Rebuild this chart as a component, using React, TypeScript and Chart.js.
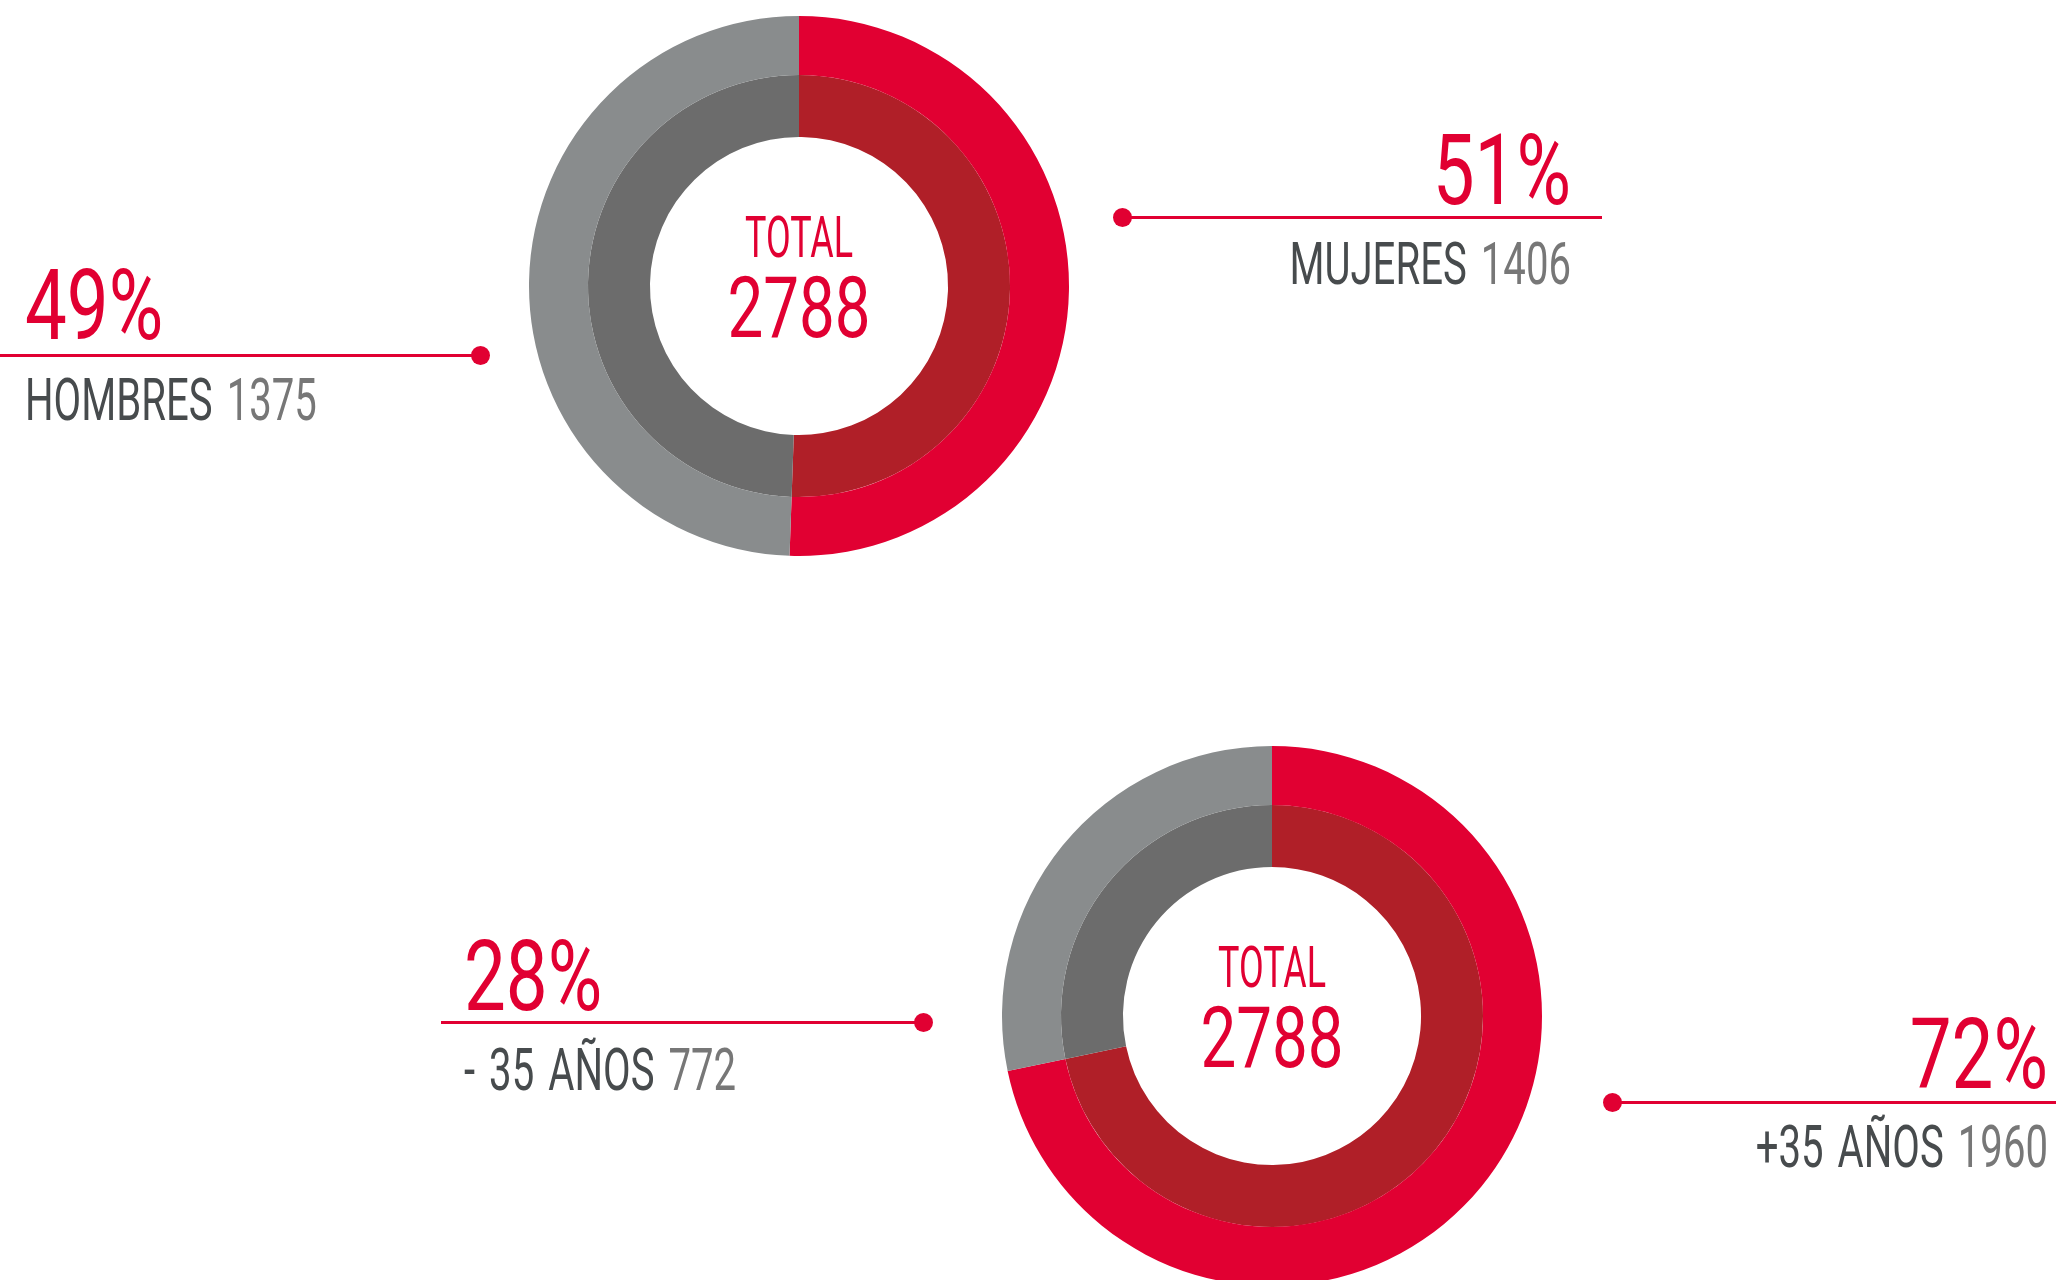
import React, { useEffect, useRef } from "react";
import { Chart, registerables } from "chart.js";

Chart.register(...registerables);

// ---- data ----
const genderLabels = ["MUJERES", "HOMBRES"];
const genderValues = [1406, 1375];
const genderPercents = [51, 49];

const ageLabels = ["+35 AÑOS", "- 35 AÑOS"];
const ageValues = [1960, 772];
const agePercents = [72, 28];

const totalLabel = "TOTAL";
const totalValue = 2788;

// ---- style ----
const RED = "#E10032";
const DARK_RED = "#B01F28";
const GRAY = "#898C8D";
const DARK_GRAY = "#6C6C6C";
const TEXT_DARK = "#474B4D";
const TEXT_LIGHT = "#777777";
const W = 2056;
const H = 1280;
const FONT = "Roboto, 'Noto Sans', sans-serif";
const BASE = 0.842; // baseline offset (em) for line-height 1
const SIZE = 540;

function Donut(props: { labels: string[]; values: number[]; cx: number; cy: number }) {
  const ref = useRef<HTMLCanvasElement>(null);
  useEffect(() => {
    const chart = new Chart(ref.current as HTMLCanvasElement, {
      type: "doughnut",
      data: {
        labels: props.labels,
        datasets: [
          { data: props.values, backgroundColor: [RED, GRAY], borderWidth: 0, weight: 59 } as any,
          { data: props.values, backgroundColor: [DARK_RED, DARK_GRAY], borderWidth: 0, weight: 62 } as any,
        ],
      },
      options: {
        responsive: false,
        animation: false,
        cutout: "55.2%",
        events: [],
        layout: { padding: 0 },
        plugins: { legend: { display: false }, tooltip: { enabled: false } },
      },
    });
    return () => chart.destroy();
  }, []);
  return (
    <canvas
      ref={ref}
      width={SIZE}
      height={SIZE}
      style={{ position: "absolute", left: props.cx - SIZE / 2, top: props.cy - SIZE / 2, width: SIZE, height: SIZE }}
    />
  );
}

function Text(props: {
  x: number;
  baseline: number;
  size: number;
  align: "left" | "right" | "center";
  k: number;
  children: React.ReactNode;
  color?: string;
  weight?: number;
  wordSpacing?: number;
}) {
  const { x, baseline, size, align, k } = props;
  const top = baseline - BASE * size;
  const style: React.CSSProperties = {
    position: "absolute",
    top,
    fontSize: size,
    lineHeight: `${size}px`,
    whiteSpace: "nowrap",
    fontFamily: FONT,
    fontWeight: props.weight || 400,
    wordSpacing: props.wordSpacing || 0,
    color: props.color || TEXT_DARK,
    transform: `scaleX(${k})`,
    width: 800,
  };
  if (align === "left") {
    style.left = x;
    style.textAlign = "left";
    style.transformOrigin = "left center";
  } else if (align === "right") {
    style.left = x - 800;
    style.textAlign = "right";
    style.transformOrigin = "right center";
  } else {
    style.left = x - 400;
    style.textAlign = "center";
    style.transformOrigin = "center center";
  }
  return <div style={style}>{props.children}</div>;
}

function Leader(props: { x1: number; x2: number; y: number; dotX: number }) {
  return (
    <>
      <div style={{ position: "absolute", left: props.x1, top: props.y - 1.5, width: props.x2 - props.x1, height: 3, background: RED }} />
      <div
        style={{ position: "absolute", left: props.dotX - 9.5, top: props.y - 9.5, width: 19, height: 19, borderRadius: "50%", background: RED }}
      />
    </>
  );
}

function Callout(props: {
  pct: number;
  label: string;
  value: number;
  x: number;
  align: "left" | "right";
  pctBase: number;
  labelBase: number;
}) {
  return (
    <>
      <Text x={props.x} baseline={props.pctBase} size={98} align={props.align} k={0.76} color={RED}>
        {props.pct}%
      </Text>
      <Text x={props.x} baseline={props.labelBase} size={59} align={props.align} k={0.68} wordSpacing={6}>
        <span style={{ color: TEXT_DARK }}>{props.label}</span> <span style={{ color: TEXT_LIGHT }}>{props.value}</span>
      </Text>
    </>
  );
}

function Center(props: { cx: number; cy: number }) {
  return (
    <>
      <Text x={props.cx} baseline={props.cy - 29} size={57} align="center" k={0.63} color={RED}>
        {totalLabel}
      </Text>
      <Text x={props.cx} baseline={props.cy + 51} size={86} align="center" k={0.74} color={RED}>
        {totalValue}
      </Text>
    </>
  );
}

export default function App() {
  useEffect(() => {
    document.body.style.margin = "0";
    document.body.style.overflow = "hidden";
  }, []);
  const top = { cx: 799, cy: 286 };
  const bot = { cx: 1272, cy: 1016 };
  return (
    <div style={{ position: "absolute", left: 0, top: 0, width: W, height: H, overflow: "hidden", background: "#fff" }}>
      <Donut labels={genderLabels} values={genderValues} cx={top.cx} cy={top.cy} />
      <Center cx={top.cx} cy={top.cy} />
      <Donut labels={ageLabels} values={ageValues} cx={bot.cx} cy={bot.cy} />
      <Center cx={bot.cx} cy={bot.cy} />

      {/* MUJERES (top right) */}
      <Leader x1={1122} x2={1602} y={217.5} dotX={1122} />
      <Callout pct={genderPercents[0]} label={genderLabels[0]} value={genderValues[0]} x={1571} align="right" pctBase={205} labelBase={283.5} />

      {/* HOMBRES (top left) */}
      <Leader x1={0} x2={480} y={355.5} dotX={480} />
      <Callout pct={genderPercents[1]} label={genderLabels[1]} value={genderValues[1]} x={25} align="left" pctBase={340} labelBase={419.5} />

      {/* +35 (bottom right) */}
      <Leader x1={1612} x2={W} y={1102.5} dotX={1612} />
      <Callout pct={agePercents[0]} label={ageLabels[0]} value={ageValues[0]} x={2048} align="right" pctBase={1088.5} labelBase={1167} />

      {/* -35 (bottom left) */}
      <Leader x1={441} x2={923} y={1022.5} dotX={923} />
      <Callout pct={agePercents[1]} label={ageLabels[1]} value={ageValues[1]} x={464} align="left" pctBase={1011} labelBase={1089.5} />
    </div>
  );
}
